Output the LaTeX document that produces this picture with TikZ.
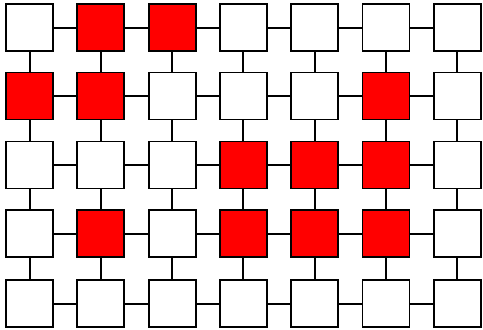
\documentclass[tikz,border=0pt]{standalone}
\begin{document}
\begin{tikzpicture}[x=1pt,y=-1pt,
  cell/.style={draw=black,line width=1.8pt,minimum size=47pt,inner sep=0pt,fill=white},
  hot/.style={cell,fill=red},
  link/.style={draw=black,line width=2pt}]
\useasboundingbox (0,0) rectangle (483,330);
\foreach \r/\y in {0/27.5,1/96,2/165,3/233.5,4/303.5}{
  \foreach \c/\x in {0/29.5,1/100.8,2/172.1,3/243.4,4/314.7,5/386,6/457.3}{
    \node[cell] (n-\r-\c) at (\x,\y) {};
  }
}
% red cells
\foreach \r/\c in {0/1,0/2,1/0,1/1,1/5,2/3,2/4,2/5,3/1,3/3,3/4,3/5}{
  \node[hot] at (n-\r-\c) {};
}
\foreach \r in {0,...,4}{
  \foreach \c [evaluate=\c as \d using int(\c+1)] in {0,...,5}{
    \draw[link] (n-\r-\c.east) -- (n-\r-\d.west);
  }
}
\foreach \r [evaluate=\r as \s using int(\r+1)] in {0,...,3}{
  \foreach \c in {0,...,6}{
    \draw[link] (n-\r-\c.south) -- (n-\s-\c.north);
  }
}
\end{tikzpicture}
\end{document}
